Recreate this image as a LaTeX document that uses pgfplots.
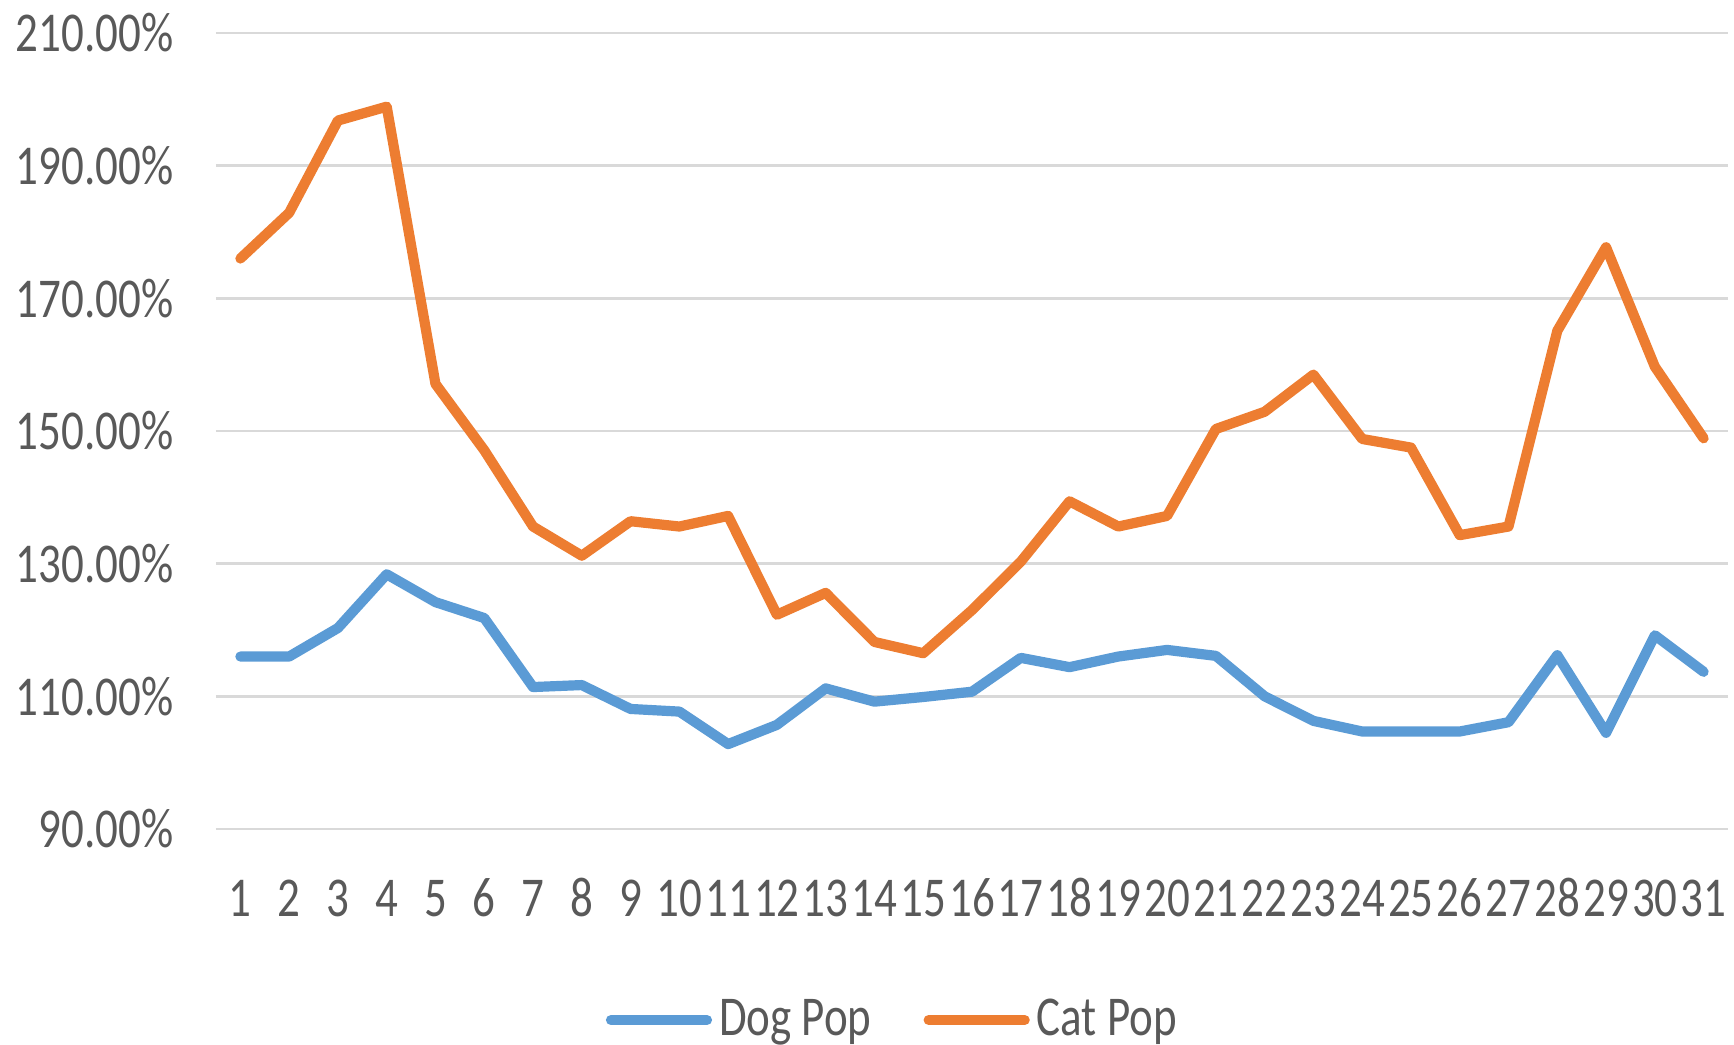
\documentclass[border=0pt]{standalone}
\usepackage{fontspec}
\setmainfont{Carlito}[FakeStretch=0.8]
\usepackage{pgfplots}
\pgfplotsset{compat=1.18}
\definecolor{dogblue}{HTML}{5B9BD5}
\definecolor{catorange}{HTML}{ED7D31}
\definecolor{gridgray}{HTML}{D9D9D9}
\definecolor{txtgray}{HTML}{595959}
\begin{document}
\begin{tikzpicture}
\useasboundingbox (0,0) rectangle (17.34,10.44);
\begin{axis}[
  at={(2.16cm,2.15cm)}, anchor=south west,
  scale only axis, width=15.12cm, height=7.96cm,
  xmin=0.5, xmax=31.5, ymin=90, ymax=210,
  axis line style={draw=none},
  major tick length=0pt,
  xtick={1,...,31},
  ytick={90,110,130,150,170,190,210},
  yticklabels={90.00\%,110.00\%,130.00\%,150.00\%,170.00\%,190.00\%,210.00\%},
  ymajorgrids, grid style={gridgray, line width=0.8pt},
  tick label style={font=\fontsize{16}{19}\selectfont, text=txtgray},
  /pgf/number format/assume math mode=true,
  xticklabel style={anchor=base, inner sep=0pt, yshift=-0.87cm},
  yticklabel style={anchor=east, inner sep=0pt, xshift=-0.42cm},
  legend style={at={(0.449,-0.24)}, anchor=center, draw=none, fill=none,
    legend columns=2, font=\fontsize{16}{19}\selectfont, text=txtgray,
    /tikz/every even column/.append style={column sep=0.45cm}},
  legend image code/.code={\draw[#1, line cap=round] (0cm,0cm) -- (0.96cm,0cm);},
]
\addplot[dogblue, line width=2.9pt, line join=round, line cap=round] coordinates {
(1,116.0) (2,116.0) (3,120.3) (4,128.4) (5,124.2) (6,121.8) (7,111.4) (8,111.7)
(9,108.1) (10,107.7) (11,102.8) (12,105.7) (13,111.2) (14,109.2) (15,109.9) (16,110.7)
(17,115.8) (18,114.4) (19,116.0) (20,117.0) (21,116.1) (22,110.0) (23,106.3) (24,104.7)
(25,104.7) (26,104.7) (27,106.1) (28,116.2) (29,104.5) (30,119.2) (31,113.7)
};
\addlegendentry{Dog Pop}
\addplot[catorange, line width=2.9pt, line join=round, line cap=round] coordinates {
(1,176.0) (2,182.9) (3,196.8) (4,198.9) (5,157.1) (6,147.1) (7,135.6) (8,131.2)
(9,136.4) (10,135.6) (11,137.2) (12,122.3) (13,125.6) (14,118.2) (15,116.5) (16,123.0)
(17,130.3) (18,139.4) (19,135.6) (20,137.2) (21,150.3) (22,152.9) (23,158.5) (24,148.8)
(25,147.5) (26,134.3) (27,135.6) (28,165.1) (29,177.7) (30,159.7) (31,148.9)
};
\addlegendentry{Cat Pop}
\end{axis}
\end{tikzpicture}
\end{document}
